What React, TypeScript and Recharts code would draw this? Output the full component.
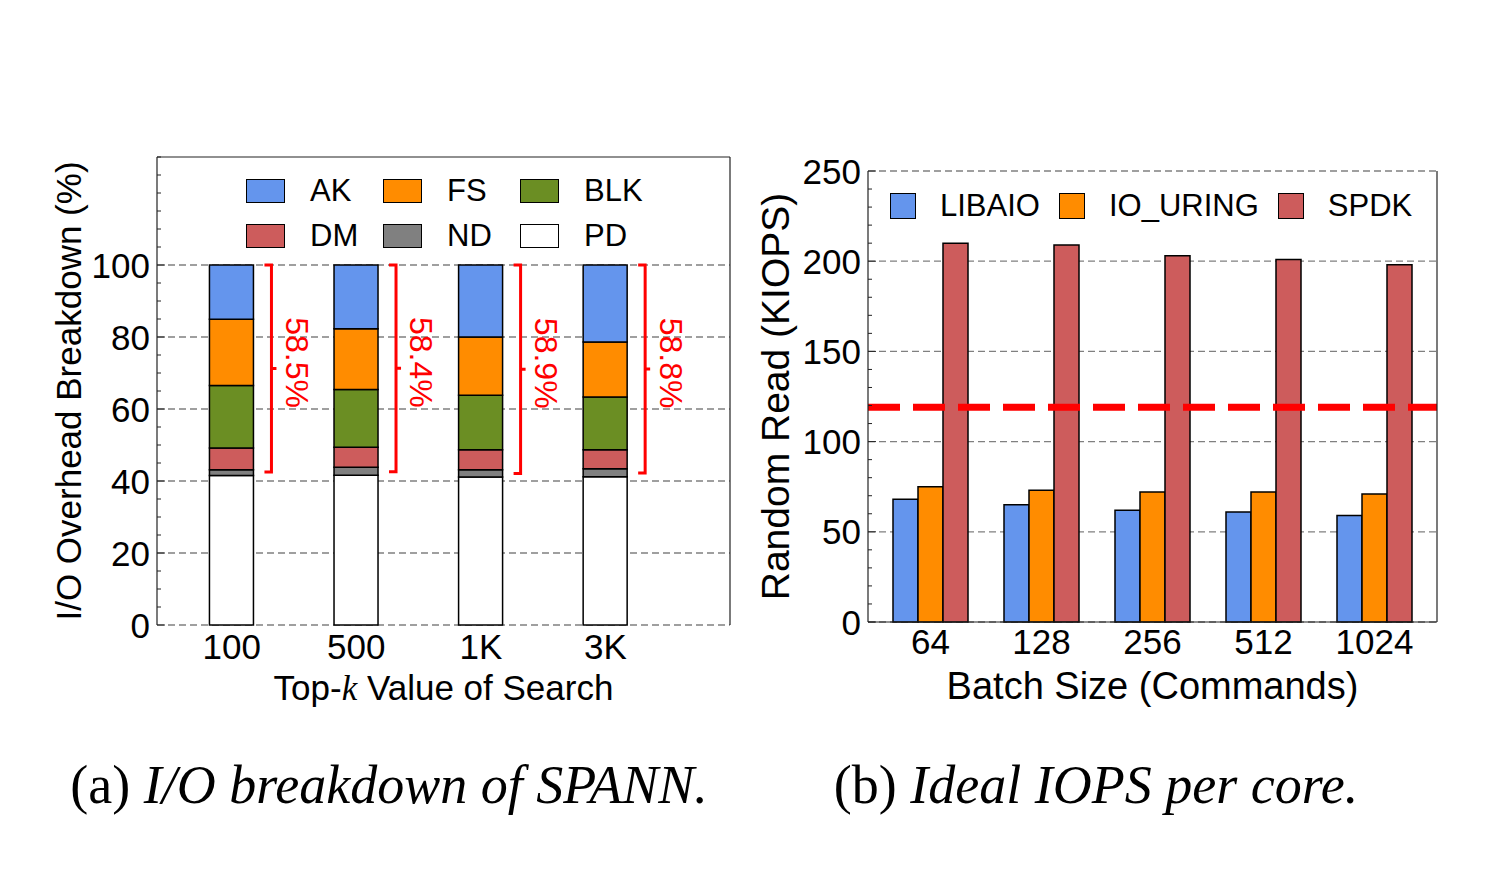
import { BarChart, Bar, XAxis, YAxis, CartesianGrid, ReferenceLine, Legend, Rectangle } from 'recharts';

// (a) I/O overhead breakdown of SPANN, percent per top-k
const topK = ['100', '500', '1K', '3K'];
const pd = [41.5, 41.6, 41.1, 41.2];
const nd = [1.6, 2.2, 2.0, 2.2];
const dm = [6.1, 5.6, 5.6, 5.3];
const blk = [17.3, 16.0, 15.1, 14.6];
const fs = [18.4, 16.9, 16.2, 15.3];
const ak = [15.1, 17.7, 20.0, 21.4];
const overhead = [58.5, 58.4, 58.9, 58.8];
const breakdownTicks = [0, 20, 40, 60, 80, 100];
const breakdownMax = 130;

// (b) ideal IOPS per core
const batchSizes = ['64', '128', '256', '512', '1024'];
const libaio = [68, 65, 62, 61, 59];
const ioUring = [75, 73, 72, 72, 71];
const spdk = [210, 209, 203, 201, 198];
const iopsTicks = [0, 50, 100, 150, 200, 250];
const threshold = 119;

const colors: Record<string, string> = {
  AK: '#6495ED',
  FS: '#FF8C00',
  BLK: '#6B8E23',
  DM: '#CD5C5C',
  ND: '#808080',
  PD: '#FFFFFF',
  LIBAIO: '#6495ED',
  IO_URING: '#FF8C00',
  SPDK: '#CD5C5C',
};

const breakdownData = topK.map((k, i) => ({
  pos: i,
  name: k,
  PD: pd[i],
  ND: nd[i],
  DM: dm[i],
  BLK: blk[i],
  FS: fs[i],
  AK: ak[i],
  overhead: overhead[i],
}));

const iopsData = batchSizes.map((b, i) => ({
  size: b,
  LIBAIO: libaio[i],
  IO_URING: ioUring[i],
  SPDK: spdk[i],
}));

const FONT = '"Liberation Sans", Arial, Helvetica, sans-serif';
const SERIF = '"Liberation Serif", "Times New Roman", serif';
const FRAME = '#222';
const GRID = '#808080';

const range = (from: number, to: number, step: number) => {
  const out: number[] = [];
  for (let v = from; v <= to + 1e-9; v += step) out.push(Math.round(v * 1000) / 1000);
  return out;
};

function YTickLeft(props: any) {
  const { x, y, payload, majors } = props;
  const major = majors.includes(payload.value);
  return (
    <g>
      <line x1={x} x2={x + (major ? 8 : 4)} y1={y} y2={y} stroke={FRAME} strokeWidth={1} />
      {major && (
        <text x={x - 7} y={y} dy="0.36em" textAnchor="end" fontSize={35} fill="#000">
          {payload.value}
        </text>
      )}
    </g>
  );
}

function YTickRight(props: any) {
  const { x, y, payload, majors } = props;
  const major = majors.includes(payload.value);
  return <line x1={x} x2={x - (major ? 8 : 4)} y1={y} y2={y} stroke={FRAME} strokeWidth={1} />;
}

function TopKTick(props: any) {
  const { x, y, payload } = props;
  return (
    <text x={x} y={y} dy={34} textAnchor="middle" fontSize={35} fill="#000">
      {topK[payload.value]}
    </text>
  );
}

function BatchTick(props: any) {
  const { x, y, payload } = props;
  return (
    <text x={x} y={y} dy={32} textAnchor="middle" fontSize={35} fill="#000">
      {payload.value}
    </text>
  );
}

function FrameTicksX(props: any) {
  const { x, y, payload, plotHeight } = props;
  const major = Math.abs(payload.value - Math.round(payload.value)) < 1e-6;
  const len = major ? 8 : 4;
  return (
    <g>
      <line x1={x} x2={x} y1={y} y2={y + len} stroke={FRAME} strokeWidth={1} />
      <line x1={x} x2={x} y1={y + plotHeight} y2={y + plotHeight - len} stroke={FRAME} strokeWidth={1} />
    </g>
  );
}

// top segment of each stack also carries the red bracket with the overhead share
function TopSegment(props: any) {
  const { x, y, width, height, payload, fill } = props;
  const unit = height / payload.AK;
  const bx = x + width + 18;
  const bottom = y + (payload.overhead - 1) * unit;
  const mid = (y + bottom) / 2;
  return (
    <g>
      <Rectangle x={x} y={y} width={width} height={height} fill={fill} stroke="#000" strokeWidth={1.5} />
      <path
        d={`M${bx - 7},${y} H${bx} V${bottom} H${bx - 7} M${bx},${mid} H${bx + 5}`}
        stroke="#ff0000"
        strokeWidth={3}
        fill="none"
      />
      <text
        transform={`translate(${bx + 26},${mid - 6}) rotate(90)`}
        textAnchor="middle"
        dy="0.36em"
        fontSize={32}
        fill="#ff0000"
      >
        {payload.overhead}%
      </text>
    </g>
  );
}

function Swatch({ color, w, h }: { color: string; w: number; h: number }) {
  return (
    <span
      style={{
        display: 'inline-block',
        width: w,
        height: h,
        background: color,
        border: '1.5px solid #000',
        boxSizing: 'border-box',
      }}
    />
  );
}

const breakdownLegendOrder = ['AK', 'FS', 'BLK', 'DM', 'ND', 'PD'];

function BreakdownLegend() {
  return (
    <div style={{ display: 'grid', gridTemplateColumns: 'repeat(3, 137px)', gridAutoRows: '45px', fontFamily: FONT }}>
      {breakdownLegendOrder.map((key) => (
        <div key={key} style={{ display: 'flex', alignItems: 'center' }}>
          <Swatch color={colors[key]} w={39} h={24} />
          <span style={{ marginLeft: 25, fontSize: 31, lineHeight: 1 }}>{key}</span>
        </div>
      ))}
    </div>
  );
}

const iopsLegendOrder = ['LIBAIO', 'IO_URING', 'SPDK'];

function IopsLegend() {
  return (
    <div style={{ display: 'flex', alignItems: 'center', gap: 19, fontFamily: FONT }}>
      {iopsLegendOrder.map((key) => (
        <div key={key} style={{ display: 'flex', alignItems: 'center' }}>
          <Swatch color={colors[key]} w={26} h={26} />
          <span style={{ marginLeft: 24, fontSize: 31, lineHeight: 1 }}>{key}</span>
        </div>
      ))}
    </div>
  );
}

const LEFT_W = 760;
const RIGHT_W = 740;
const CHART_H = 720;

function BreakdownChart() {
  const minor = range(0, breakdownMax, 5);
  return (
    <BarChart
      width={LEFT_W}
      height={CHART_H}
      data={breakdownData}
      margin={{ top: 157, right: 0, bottom: 15, left: 0 }}
    >
      <CartesianGrid
        yAxisId="left"
        vertical={false}
        horizontalValues={breakdownTicks}
        stroke={GRID}
        strokeDasharray="7 4"
        strokeWidth={1.3}
      />
      <XAxis
        dataKey="pos"
        type="number"
        domain={[-0.6, 4]}
        ticks={[0, 1, 2, 3]}
        interval={0}
        height={80}
        axisLine={false}
        tickLine={false}
        tickSize={0}
        tickMargin={0}
        tick={<TopKTick />}
        label={(p: any) => (
          <text x={p.viewBox.x + p.viewBox.width / 2} y={p.viewBox.y + 75} textAnchor="middle" fontSize={35} fill="#000">
            Top-
            <tspan fontFamily={SERIF} fontStyle="italic">k</tspan> Value of Search
          </text>
        )}
      />
      <YAxis
        yAxisId="left"
        type="number"
        domain={[0, breakdownMax]}
        ticks={minor}
        interval={0}
        width={157}
        tickSize={0}
        tickMargin={0}
        tickLine={false}
        axisLine={{ stroke: FRAME, strokeWidth: 1.2 }}
        tick={<YTickLeft majors={breakdownTicks} />}
        label={(p: any) => (
          <text
            transform={`translate(${p.viewBox.x + 68},${p.viewBox.y + p.viewBox.height / 2}) rotate(-90)`}
            textAnchor="middle"
            dy="0.36em"
            fontSize={35}
            fill="#000"
          >
            I/O Overhead Breakdown (%)
          </text>
        )}
      />
      <YAxis
        yAxisId="right"
        orientation="right"
        type="number"
        domain={[0, breakdownMax]}
        ticks={minor}
        interval={0}
        width={30}
        tickSize={0}
        tickMargin={0}
        tickLine={false}
        axisLine={{ stroke: FRAME, strokeWidth: 1.2 }}
        tick={<YTickRight majors={breakdownTicks} />}
      />
      {/* top edge of the frame */}
      <ReferenceLine yAxisId="left" y={breakdownMax} stroke={FRAME} strokeWidth={1.2} />
      <Legend
        verticalAlign="middle"
        align="center"
        layout="horizontal"
        wrapperStyle={{ top: 168, left: 246, width: 420, height: 90 }}
        content={() => <BreakdownLegend />}
      />
      <Bar yAxisId="left" dataKey="PD" stackId="s" barSize={44} fill={colors.PD} stroke="#000" strokeWidth={1.5} isAnimationActive={false} />
      <Bar yAxisId="left" dataKey="ND" stackId="s" barSize={44} fill={colors.ND} stroke="#000" strokeWidth={1.5} isAnimationActive={false} />
      <Bar yAxisId="left" dataKey="DM" stackId="s" barSize={44} fill={colors.DM} stroke="#000" strokeWidth={1.5} isAnimationActive={false} />
      <Bar yAxisId="left" dataKey="BLK" stackId="s" barSize={44} fill={colors.BLK} stroke="#000" strokeWidth={1.5} isAnimationActive={false} />
      <Bar yAxisId="left" dataKey="FS" stackId="s" barSize={44} fill={colors.FS} stroke="#000" strokeWidth={1.5} isAnimationActive={false} />
      <Bar yAxisId="left" dataKey="AK" stackId="s" barSize={44} fill={colors.AK} shape={<TopSegment />} isAnimationActive={false} />
    </BarChart>
  );
}

const IOPS_PAD = 7;
const IOPS_MARGIN = { top: 171, right: 0, bottom: 18, left: 0 };
const IOPS_YW = 128;
const IOPS_YW_R = 43;
const IOPS_XH = 80;

function IopsChart() {
  const plotW = RIGHT_W - IOPS_YW - IOPS_YW_R;
  const plotH = CHART_H - IOPS_MARGIN.top - IOPS_MARGIN.bottom - IOPS_XH;
  const band = (plotW - 2 * IOPS_PAD) / batchSizes.length;
  const edge = 0.5 + IOPS_PAD / band;
  const frameTicks = range(-0.4, batchSizes.length - 1 + 0.4, 0.2);
  const minorY = range(0, 250, 10);
  return (
    <BarChart width={RIGHT_W} height={CHART_H} data={iopsData} margin={IOPS_MARGIN} barGap={0} barCategoryGap={18}>
      <CartesianGrid
        vertical={false}
        horizontalValues={iopsTicks}
        stroke={GRID}
        strokeDasharray="7 4"
        strokeWidth={1.3}
      />
      <XAxis
        dataKey="size"
        padding={{ left: IOPS_PAD, right: IOPS_PAD }}
        height={IOPS_XH}
        tickSize={0}
        tickMargin={0}
        tickLine={false}
        axisLine={{ stroke: FRAME, strokeWidth: 1.2 }}
        tick={<BatchTick />}
        label={(p: any) => (
          <text x={p.viewBox.x + p.viewBox.width / 2} y={p.viewBox.y + 77} textAnchor="middle" fontSize={38} fill="#000">
            Batch Size (Commands)
          </text>
        )}
      />
      <XAxis
        xAxisId="frame"
        orientation="top"
        type="number"
        domain={[-edge, batchSizes.length - 1 + edge]}
        ticks={frameTicks}
        interval={0}
        height={0}
        tickSize={0}
        tickMargin={0}
        tickLine={false}
        axisLine={{ stroke: FRAME, strokeWidth: 1.2 }}
        tick={<FrameTicksX plotHeight={plotH} />}
      />
      <YAxis
        type="number"
        domain={[0, 250]}
        ticks={minorY}
        interval={0}
        width={IOPS_YW}
        tickSize={0}
        tickMargin={0}
        tickLine={false}
        axisLine={{ stroke: FRAME, strokeWidth: 1.2 }}
        tick={<YTickLeft majors={iopsTicks} />}
        label={(p: any) => (
          <text
            transform={`translate(${p.viewBox.x + 35},${p.viewBox.y + p.viewBox.height / 2}) rotate(-90)`}
            textAnchor="middle"
            dy="0.36em"
            fontSize={39}
            fill="#000"
          >
            Random Read (KIOPS)
          </text>
        )}
      />
      <YAxis
        yAxisId="right"
        orientation="right"
        type="number"
        domain={[0, 250]}
        ticks={minorY}
        interval={0}
        width={IOPS_YW_R}
        tickSize={0}
        tickMargin={0}
        tickLine={false}
        axisLine={{ stroke: FRAME, strokeWidth: 1.2 }}
        tick={<YTickRight majors={iopsTicks} />}
      />
      <Legend
        verticalAlign="middle"
        align="center"
        layout="horizontal"
        wrapperStyle={{ top: 190, left: 150, width: 560, height: 28 }}
        content={() => <IopsLegend />}
      />
      <Bar dataKey="LIBAIO" fill={colors.LIBAIO} stroke="#000" strokeWidth={1.5} isAnimationActive={false} />
      <Bar dataKey="IO_URING" fill={colors.IO_URING} stroke="#000" strokeWidth={1.5} isAnimationActive={false} />
      <Bar dataKey="SPDK" fill={colors.SPDK} stroke="#000" strokeWidth={1.5} isAnimationActive={false} />
      <ReferenceLine y={threshold} stroke="#ff0000" strokeWidth={7} strokeDasharray="32 13" />
    </BarChart>
  );
}

const captionStyle = {
  position: 'absolute' as const,
  top: 758,
  transform: 'translateX(-50%)',
  whiteSpace: 'nowrap' as const,
  fontFamily: SERIF,
  fontSize: 54,
  lineHeight: '54px',
};

export default function App() {
  return (
    <div style={{ position: 'absolute', left: 0, top: 0, width: 1494, height: 870, background: '#fff', fontFamily: FONT }}>
      <div style={{ position: 'absolute', left: 0, top: 0 }}>
        <BreakdownChart />
      </div>
      <div style={{ position: 'absolute', left: 740, top: 0 }}>
        <IopsChart />
      </div>
      <div style={{ ...captionStyle, left: 389 }}>
        (a) <i>I/O breakdown of SPANN.</i>
      </div>
      <div style={{ ...captionStyle, left: 1096 }}>
        (b) <i>Ideal IOPS per core.</i>
      </div>
    </div>
  );
}
